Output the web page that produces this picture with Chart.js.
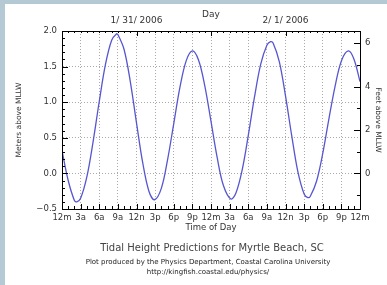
<!DOCTYPE html>
<html>
<head>
<meta charset="utf-8">
<script src="https://cdn.jsdelivr.net/npm/chart.js@4.4.1/dist/chart.umd.min.js"></script>
<style>
  html, body { margin: 0; padding: 0; background: #fff; overflow: hidden; }
  #wrap { width: 387px; height: 285px; position: relative; }
  canvas { display: block; }
</style>
</head>
<body>
<div id="wrap"><canvas id="tide"></canvas></div>
<script>
// hours from midnight 1/31/2006, water level in meters above MLLW
const hours = [0, 1, 2, 2.4, 3, 4, 5, 6, 7, 8, 8.8, 9, 10, 11, 12, 13, 14, 14.9, 16, 17, 18, 19, 20, 21,
  22, 23, 24, 25, 26, 27.2, 28, 29, 30, 31, 32, 33, 33.6, 34, 35, 36, 37, 38, 39, 39.6, 40, 41, 42, 43, 44, 45, 46.1, 47, 48];
const meters = [0.32, -0.10, -0.38, -0.40, -0.35, -0.05, 0.44, 1.01, 1.53, 1.87, 1.96, 1.95, 1.74, 1.29, 0.71, 0.15, -0.25, -0.37, -0.21, 0.19, 0.70, 1.21, 1.58, 1.72,
  1.59, 1.23, 0.73, 0.22, -0.17, -0.36, -0.28, 0.04, 0.53, 1.07, 1.53, 1.80, 1.85, 1.83, 1.57, 1.09, 0.53, 0.02, -0.29, -0.34, -0.32, -0.11, 0.28, 0.77, 1.23, 1.58, 1.72, 1.61, 1.29];

const timeLabels = ['12m','3a','6a','9a','12n','3p','6p','9p','12m','3a','6a','9a','12n','3p','6p','9p','12m'];
const dayLabels = ['1/ 31/ 2006', '2/ 1/ 2006'];
const feetTicks = [0, 2, 4, 6];
const FT = 3.28084;

const FONT = 'DejaVu Sans';
const TXT = '#333';

const framePlugin = {
  id: 'frame',
  beforeDraw(chart) {
    const c = chart.ctx;
    c.save();
    c.fillStyle = '#b5c9d5';
    c.fillRect(0, 0, 5, chart.height);
    c.fillRect(0, 0, chart.width, 4);
    c.restore();
  },
  afterDraw(chart) {
    const c = chart.ctx, a = chart.chartArea;
    const x = chart.scales.x, y = chart.scales.y, y2 = chart.scales.y2;
    c.save();
    c.strokeStyle = '#000';
    c.lineWidth = 1;
    c.strokeRect(Math.round(a.left) + 0.5, Math.round(a.top) + 0.5, Math.round(a.right - a.left), Math.round(a.bottom - a.top));

    c.beginPath();
    // bottom + top ticks (every hour)
    for (let h = 0; h <= 48; h++) {
      const px = Math.round(x.getPixelForValue(h)) + 0.5;
      const lb = h % 3 === 0 ? 5 : 3;
      c.moveTo(px, a.bottom); c.lineTo(px, a.bottom - lb);
      const lt = h % 12 === 0 ? 5 : 2;
      c.moveTo(px, a.top); c.lineTo(px, a.top + lt);
    }
    // left ticks every 0.1 m
    for (let i = -5; i <= 20; i++) {
      const py = Math.round(y.getPixelForValue(i / 10)) + 0.5;
      const l = i % 5 === 0 ? 6 : 3;
      c.moveTo(a.left, py); c.lineTo(a.left + l, py);
    }
    // right ticks every foot
    for (let f = -1; f <= 6; f++) {
      const py = Math.round(y2.getPixelForValue(f)) + 0.5;
      const l = f % 2 === 0 ? 6 : 3;
      c.moveTo(a.right, py); c.lineTo(a.right - l, py);
    }
    c.stroke();

    c.fillStyle = TXT;
    c.textAlign = 'center';
    c.textBaseline = 'middle';
    c.font = '9px ' + FONT;
    c.fillText('Day', x.getPixelForValue(24), 15);
    c.fillText(dayLabels[0], x.getPixelForValue(12), 21);
    c.fillText(dayLabels[1], x.getPixelForValue(36), 21);

    c.fillStyle = '#444';
    c.font = '10px ' + FONT;
    c.fillText('Tidal Height Predictions for Myrtle Beach, SC', 212, 248);
    c.fillStyle = '#222';
    c.font = '7px ' + FONT;
    c.fillText('Plot produced by the Physics Department, Coastal Carolina University', 208, 262);
    c.fillText('http://kingfish.coastal.edu/physics/', 208, 272);
    c.restore();
  }
};

const ctx = document.getElementById('tide').getContext('2d');
new Chart(ctx, {
  type: 'line',
  data: {
    datasets: [{
      data: hours.map((h, i) => ({ x: h, y: meters[i] })),
      borderColor: '#5656d0',
      borderWidth: 1.3,
      pointRadius: 0,
      tension: 0.35,
      fill: false
    }]
  },
  options: {
    responsive: true,
    maintainAspectRatio: false,
    animation: false,
    layout: { padding: { left: 5, right: 5, top: 31, bottom: 50 } },
    plugins: { legend: { display: false }, tooltip: { enabled: false } },
    scales: {
      x: {
        type: 'linear', min: 0, max: 48,
        afterBuildTicks: s => { s.ticks = timeLabels.map((_, i) => ({ value: i * 3 })); },
        afterFit: s => { s.height = 26; },
        ticks: {
          autoSkip: false, maxRotation: 0, padding: 4, color: TXT,
          font: { family: FONT, size: 8.5 },
          callback: (v, i) => timeLabels[i]
        },
        grid: { color: '#aaa', drawTicks: false },
        border: { color: '#000', dash: [1, 2] },
        title: { display: true, text: 'Time of Day', color: TXT, font: { family: FONT, size: 8.5 }, padding: { top: 0, bottom: 2 } }
      },
      y: {
        min: -0.5, max: 2.0,
        afterFit: s => { s.width = 57; },
        ticks: {
          stepSize: 0.5, padding: 5, color: TXT,
          font: { family: FONT, size: 8.5 },
          callback: v => (v < 0 ? '\u2212' : '') + Math.abs(v).toFixed(1)
        },
        grid: { color: '#aaa', drawTicks: false },
        border: { color: '#000', dash: [1, 2] },
        title: { display: true, text: 'Meters above MLLW', color: TXT, font: { family: FONT, size: 7.5 }, padding: { top: 10, bottom: 0 } }
      },
      y2: {
        position: 'right',
        min: -0.5 * FT, max: 2.0 * FT,
        afterBuildTicks: s => { s.ticks = feetTicks.map(v => ({ value: v })); },
        afterFit: s => { s.width = 22; },
        ticks: { padding: 5, color: TXT, font: { family: FONT, size: 8.5 }, callback: v => String(v) },
        grid: { drawOnChartArea: false, drawTicks: false },
        border: { color: '#000' },
        title: { display: true, text: 'Feet above MLLW', color: TXT, font: { family: FONT, size: 7.5 }, padding: { top: 0, bottom: 0 } }
      }
    }
  },
  plugins: [framePlugin]
});
</script>
</body>
</html>
